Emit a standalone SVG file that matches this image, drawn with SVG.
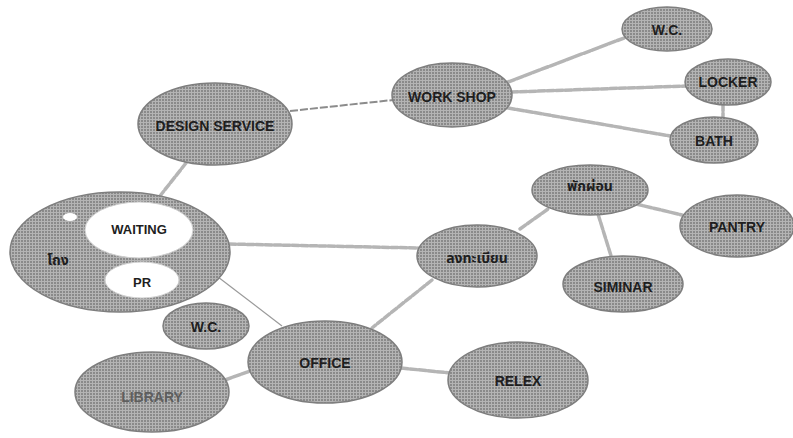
<svg xmlns="http://www.w3.org/2000/svg" width="793" height="438" viewBox="0 0 793 438">
<defs>
<pattern id="ht" width="3" height="3" patternUnits="userSpaceOnUse">
<rect width="3" height="3" fill="#b4b4b4"/>
<rect width="2" height="2" fill="#8a8a8a"/>
</pattern>
<style>
.n{fill:url(#ht);stroke:#7e7e7e;stroke-width:1.5}
.w{fill:#ffffff;stroke:#cfcfcf;stroke-width:1}
.t{font-family:"Liberation Sans","Noto Sans","Noto Sans Thai",sans-serif;font-size:14px;fill:#1e1e1e;text-anchor:middle;dominant-baseline:central;font-weight:bold}
.tl{fill:#5e5e5e}
.c{fill:none;stroke:#b5b5b5;stroke-width:3.5;stroke-dasharray:7 2;stroke-linecap:round}
.cd{fill:none;stroke:#8c8c8c;stroke-width:2;stroke-dasharray:8 2}
.ct{fill:none;stroke:#9a9a9a;stroke-width:1.2}
</style>
</defs>
<rect width="793" height="438" fill="#ffffff"/>
<g id="connectors">
<path class="cd" d="M290,111 L393,100"/>
<path class="c" d="M508,82 L624,38"/>
<path class="c" d="M511,92 L686,86"/>
<path class="c" d="M508,108 L670,136"/>
<path class="c" d="M723,104 L723,118"/>
<path class="c" d="M186,163 L160,196"/>
<path class="c" d="M229,244 L418,248"/>
<path class="ct" d="M218,277 L282,326"/>
<path class="c" d="M520,229 L548,209"/>
<path class="c" d="M636,204 L682,215"/>
<path class="c" d="M598,214 L612,259"/>
<path class="c" d="M432,280 L372,328"/>
<path class="c" d="M225,380 L250,371"/>
<path class="c" d="M401,368 L450,373"/>
</g>
<g id="wc-top"><ellipse class="n" cx="667" cy="29" rx="45" ry="22"/><text class="t" x="667" y="30">W.C.</text></g>
<g id="locker"><ellipse class="n" cx="728" cy="82" rx="43" ry="23"/><text class="t" x="728" y="82">LOCKER</text></g>
<g id="bath"><ellipse class="n" cx="714" cy="140" rx="44" ry="23"/><text class="t" x="714" y="141">BATH</text></g>
<g id="workshop"><ellipse class="n" cx="452" cy="95" rx="60" ry="32"/><text class="t" x="452" y="97">WORK SHOP</text></g>
<g id="design-service"><ellipse class="n" cx="215" cy="124" rx="77" ry="41"/><text class="t" x="215" y="126">DESIGN SERVICE</text></g>
<g id="lobby">
<ellipse class="n" cx="120" cy="252" rx="110" ry="60"/>
<ellipse cx="70" cy="217" rx="7" ry="4" fill="#ffffff"/>
<text class="t" x="58" y="260">โถง</text>
<g id="waiting"><ellipse class="w" cx="139" cy="230" rx="54" ry="28"/><text class="t" x="139" y="229" style="font-size:13px">WAITING</text></g>
<g id="pr"><ellipse class="w" cx="142" cy="280" rx="37" ry="18"/><text class="t" x="142" y="282" style="font-size:13px">PR</text></g>
</g>
<g id="register"><ellipse class="n" cx="477" cy="256" rx="60" ry="31"/><text class="t" x="477" y="258">ลงทะเบียน</text></g>
<g id="rest"><ellipse class="n" cx="590" cy="190" rx="58" ry="25"/><text class="t" x="590" y="186">พักผ่อน</text></g>
<g id="pantry"><ellipse class="n" cx="737" cy="226" rx="57" ry="31"/><text class="t" x="737" y="227">PANTRY</text></g>
<g id="siminar"><ellipse class="n" cx="623" cy="284" rx="60" ry="28"/><text class="t" x="623" y="287">SIMINAR</text></g>
<g id="wc-small"><ellipse class="n" cx="206" cy="326" rx="43" ry="23"/><text class="t" x="206" y="327">W.C.</text></g>
<g id="office"><ellipse class="n" cx="325" cy="362" rx="77" ry="41"/><text class="t" x="325" y="363">OFFICE</text></g>
<g id="library"><ellipse class="n" cx="152" cy="392" rx="77" ry="40"/><text class="t tl" x="152" y="397">LIBRARY</text></g>
<g id="relex"><ellipse class="n" cx="518" cy="380" rx="70" ry="38"/><text class="t" x="518" y="381">RELEX</text></g>
</svg>
